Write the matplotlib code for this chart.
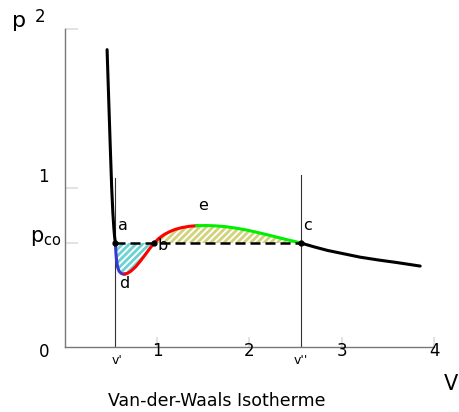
import matplotlib
matplotlib.use("Agg")
import matplotlib.pyplot as plt
import numpy as np

# isotherm, split by colour
v_left = [0.46, 0.478, 0.495, 0.51, 0.522, 0.533, 0.542, 0.55]
p_left = [1.87, 1.55, 1.25, 1.0, 0.85, 0.75, 0.69, 0.654]
v_blue = [0.55, 0.553, 0.558, 0.565, 0.575, 0.59, 0.61, 0.63, 0.65]
p_blue = [0.654, 0.62, 0.575, 0.535, 0.50, 0.477, 0.464, 0.459, 0.459]
v_red = [0.65, 0.68, 0.72, 0.77, 0.82, 0.87, 0.92, 0.97, 1.02, 1.08, 1.14,
         1.20, 1.27, 1.35, 1.43]
p_red = [0.459, 0.463, 0.478, 0.505, 0.54, 0.578, 0.618, 0.654, 0.683,
         0.708, 0.726, 0.740, 0.751, 0.759, 0.763]
v_green = [1.43, 1.53, 1.63, 1.74, 1.85, 1.96, 2.07, 2.18, 2.29, 2.40,
           2.48, 2.56]
p_green = [0.763, 0.764, 0.762, 0.757, 0.748, 0.737, 0.723, 0.708, 0.692,
           0.676, 0.665, 0.654]
v_right = [2.56, 2.70, 2.85, 3.0, 3.2, 3.4, 3.6, 3.85]
p_right = [0.654, 0.630, 0.607, 0.589, 0.565, 0.547, 0.531, 0.509]

p_co = 0.654
v1 = 0.55    # v'
v_b = 0.97
v2 = 2.56    # v''

xticks = [1, 2, 3, 4]

W, H = 459, 412
fig = plt.figure(figsize=(W / 100, H / 100), dpi=100)
ax = fig.add_axes([64.6 / W, 1 - 347 / H, (434 - 64.6) / W, (347 - 29) / H])
ax.set_xlim(0, 4)
ax.set_ylim(0, 2)
for s in ['top', 'right']:
    ax.spines[s].set_visible(False)
for s in ['left', 'bottom']:
    ax.spines[s].set_color('#777777')
    ax.spines[s].set_linewidth(1)
ax.set_xticks(xticks)
ax.set_yticks([1, 2, p_co])
ax.tick_params(axis='both', direction='in', color='#dddddd', width=1.2,
               labelbottom=False, labelleft=False)
ax.tick_params(axis='x', length=7)
ax.tick_params(axis='y', length=9)

plt.rcParams['hatch.linewidth'] = 2.0

# hatched areas between curve and p_co
i_b = v_red.index(v_b)
vb = np.array(v_blue + v_red[1:i_b + 1])
pb = np.array(p_blue + p_red[1:i_b + 1])
ax.fill_between(vb, pb, p_co, facecolor='white', edgecolor='#6ad2d2',
                hatch='/////', linewidth=0)
vy = np.array(v_red[i_b:] + v_green[1:])
py = np.array(p_red[i_b:] + p_green[1:])
ax.fill_between(vy, py, p_co, facecolor='white', edgecolor='#d2d27a',
                hatch='/////', linewidth=0)

# v' and v'' lines
ax.plot([v1, v1], [0, 1.063], color='#333333', lw=0.8)
ax.plot([v2, v2], [0, 1.08], color='#333333', lw=0.8)

lw = 2.2
ax.plot(v_left, p_left, color='black', lw=lw, solid_capstyle='round')
ax.plot(v_blue, p_blue, color='#3838d0', lw=lw, solid_joinstyle='round')
ax.plot(v_red, p_red, color='#ff0000', lw=lw, solid_joinstyle='round')
ax.plot(v_green, p_green, color='#00ee00', lw=lw, solid_joinstyle='round')
ax.plot(v_right, p_right, color='black', lw=lw, solid_capstyle='round')

ax.plot([v1, v2], [p_co, p_co], color='black', lw=1.8, dashes=(4, 2))
ax.plot([v1, v_b, v2], [p_co, p_co, p_co], 'o', color='black', ms=3.5)


def px(x, y, s, **kw):
    fig.text(x / W, 1 - y / H, s, ha='center', va='center', **kw)


for t, x in zip(xticks, [157, 249, 342, 434]):
    px(x, 351, str(t), fontsize=12)
px(117, 361, "v'", fontsize=9)
px(301, 361, "v''", fontsize=9)
px(44, 352, "0", fontsize=12)
px(43, 177, "1", fontsize=12)
px(40, 17, "2", fontsize=12)
px(19, 21, "p", fontsize=16)
px(46, 238, r"p$_{\rm co}$", fontsize=15)
px(451, 384, "V", fontsize=15)
px(217, 401, "Van-der-Waals Isotherme", fontsize=12.5)

px(122.5, 226, "a", fontsize=11.5)
px(163, 246, "b", fontsize=11.5)
px(307.5, 226, "c", fontsize=11.5)
px(124, 283, "d", fontsize=11.5)
px(203.5, 206, "e", fontsize=11.5)

fig.savefig("out.png", dpi=100)
